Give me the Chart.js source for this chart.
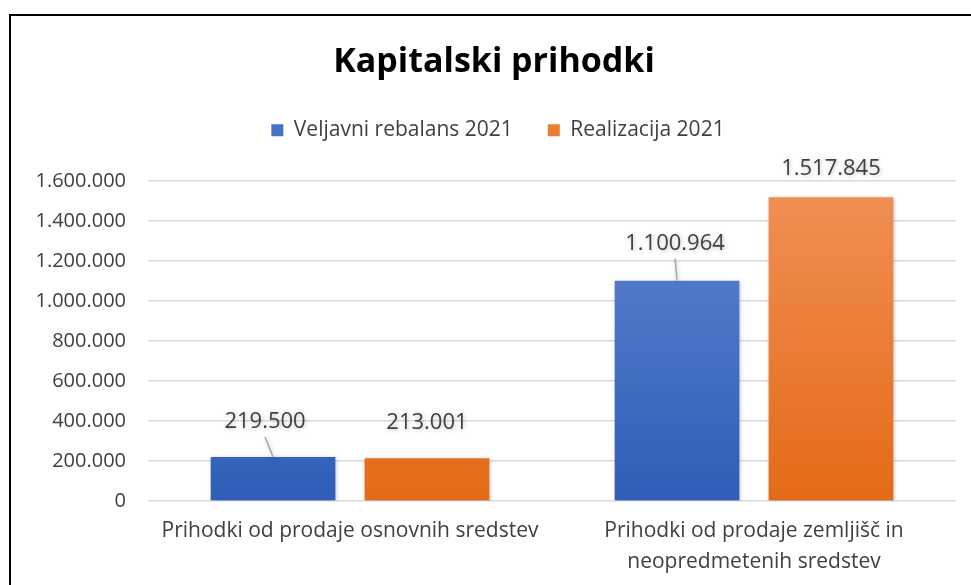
<!DOCTYPE html>
<html>
<head>
<meta charset="utf-8">
<script src="https://cdn.jsdelivr.net/npm/chart.js@4.4.1/dist/chart.umd.min.js"></script>
<style>
  html, body { margin: 0; padding: 0; background: #fff; }
  #wrap { position: relative; width: 971px; height: 585px; overflow: hidden; }
  #frame { position: absolute; left: 9px; top: 14px; width: 1000px; height: 700px;
           border-left: 2px solid #000; border-top: 2px solid #000; }
  canvas { position: absolute; left: 0; top: 0; }
</style>
</head>
<body>
<div id="wrap">
  <div id="frame"></div>
  <canvas id="chart" width="971" height="585"></canvas>
</div>
<script>
// ===== Data =====
const categories = [
    "Prihodki od prodaje osnovnih sredstev",
    ["Prihodki od prodaje zemljišč in", "neopredmetenih sredstev"]
];
const seriesNames = ["Veljavni rebalans 2021", "Realizacija 2021"];
const rebalansValues = [219500, 1100964];
const realizacijaValues = [213001, 1517845];
const yTicks = [0, 200000, 400000, 600000, 800000, 1000000, 1200000, 1400000, 1600000];

const FONT = "'Open Sans', Lato, sans-serif";
const TEXT = "#404040";

// ===== Helpers =====
function fmt(v) {
    return String(Math.round(v)).replace(/\B(?=(\d{3})+(?!\d))/g, ".");
}

function gradient(top, bottom) {
    return function(context) {
        const area = context.chart.chartArea;
        if (!area) return bottom;
        const g = context.chart.ctx.createLinearGradient(0, area.top, 0, area.bottom);
        g.addColorStop(0, top);
        g.addColorStop(1, bottom);
        return g;
    };
}

// ===== Data labels with leader lines =====
const labelPlugin = {
    id: "valueLabels",
    afterDatasetsDraw(chart, args, opts) {
        const ctx = chart.ctx;
        ctx.save();
        ctx.font = "22px " + FONT;
        ctx.fillStyle = TEXT;
        ctx.textAlign = "center";
        ctx.textBaseline = "middle";
        chart.data.datasets.forEach(function(ds, di) {
            const meta = chart.getDatasetMeta(di);
            meta.data.forEach(function(bar, i) {
                const off = opts.offsets[di][i];
                const lx = bar.x + off[0];
                const ly = bar.y - off[1];
                ctx.fillText(fmt(ds.data[i]), lx, ly);
                if (off[2]) {
                    ctx.strokeStyle = "#a6a6a6";
                    ctx.lineWidth = 1.5;
                    ctx.beginPath();
                    ctx.moveTo(lx, ly + 15);
                    ctx.lineTo(bar.x, bar.y);
                    ctx.stroke();
                }
            });
        });
        ctx.restore();
    }
};

// extra space under the legend, and title/legend nudged right like the original
const headerLayout = {
    id: "headerLayout",
    beforeInit(chart) {
        const fit = chart.legend.fit;
        chart.legend.fit = function() {
            fit.bind(chart.legend)();
            this.height += 30;
        };
    },
    afterLayout(chart) {
        chart.titleBlock.left += 16;
        chart.titleBlock.right += 16;
        chart.legend.left += 20;
        chart.legend.right += 20;
    }
};

// soft bar shadow
const barShadow = {
    id: "barShadow",
    beforeDatasetsDraw(chart) {
        chart.ctx.save();
        chart.ctx.shadowColor = "rgba(0,0,0,0.25)";
        chart.ctx.shadowBlur = 4;
        chart.ctx.shadowOffsetX = 1;
        chart.ctx.shadowOffsetY = 1;
    },
    afterDatasetsDraw(chart) {
        chart.ctx.restore();
    }
};

// ===== Chart =====
new Chart(document.getElementById("chart"), {
    type: "bar",
    data: {
        labels: categories,
        datasets: [
            {
                label: seriesNames[0],
                data: rebalansValues,
                backgroundColor: gradient("#5f87cf", "#2f5db7"),
                borderWidth: 0
            },
            {
                label: seriesNames[1],
                data: realizacijaValues,
                backgroundColor: gradient("#f19056", "#e46a17"),
                borderWidth: 0
            }
        ]
    },
    options: {
        responsive: false,
        animation: false,
        devicePixelRatio: 1,
        layout: { padding: { left: 0, right: 15, top: 0, bottom: 0 } },
        datasets: {
            bar: { categoryPercentage: 0.762, barPercentage: 0.81 }
        },
        plugins: {
            title: {
                display: true,
                text: "Kapitalski prihodki",
                color: "#000",
                font: { family: FONT, size: 34, weight: "bold" },
                padding: { top: 42, bottom: 2 }
            },
            legend: {
                display: true,
                position: "top",
                labels: {
                    color: TEXT,
                    font: { family: FONT, size: 21 },
                    boxWidth: 12,
                    boxHeight: 12,
                    padding: 35,
                    generateLabels: function(chart) {
                        const fills = ["#4472c4", "#ed7d31"];
                        return chart.data.datasets.map(function(ds, i) {
                            return {
                                text: ds.label,
                                fillStyle: fills[i],
                                strokeStyle: fills[i],
                                lineWidth: 0,
                                fontColor: TEXT,
                                datasetIndex: i
                            };
                        });
                    }
                }
            },
            tooltip: { enabled: false },
            valueLabels: {
                offsets: [
                    [[-8, 35, true], [-2, 37, true]],
                    [[0, 36, false], [0, 29, false]]
                ]
            }
        },
        scales: {
            x: {
                grid: { display: false, drawTicks: false },
                border: { display: false },
                ticks: {
                    color: TEXT,
                    font: { family: FONT, size: 21, lineHeight: 1.48 },
                    padding: 14,
                    maxRotation: 0
                },
                afterFit: function(scale) { scale.height = 84; }
            },
            y: {
                min: 0,
                max: 1600000,
                afterBuildTicks: function(scale) {
                    scale.ticks = yTicks.map(function(v) { return { value: v }; });
                },
                grid: { color: "#d9d9d9", lineWidth: 1.5, drawTicks: false },
                border: { display: false },
                ticks: {
                    color: TEXT,
                    font: { family: FONT, size: 20 },
                    padding: 22,
                    callback: function(v) { return fmt(v); }
                },
                afterFit: function(scale) { scale.width = 148; }
            }
        }
    },
    plugins: [labelPlugin, headerLayout, barShadow]
});
</script>
</body>
</html>
